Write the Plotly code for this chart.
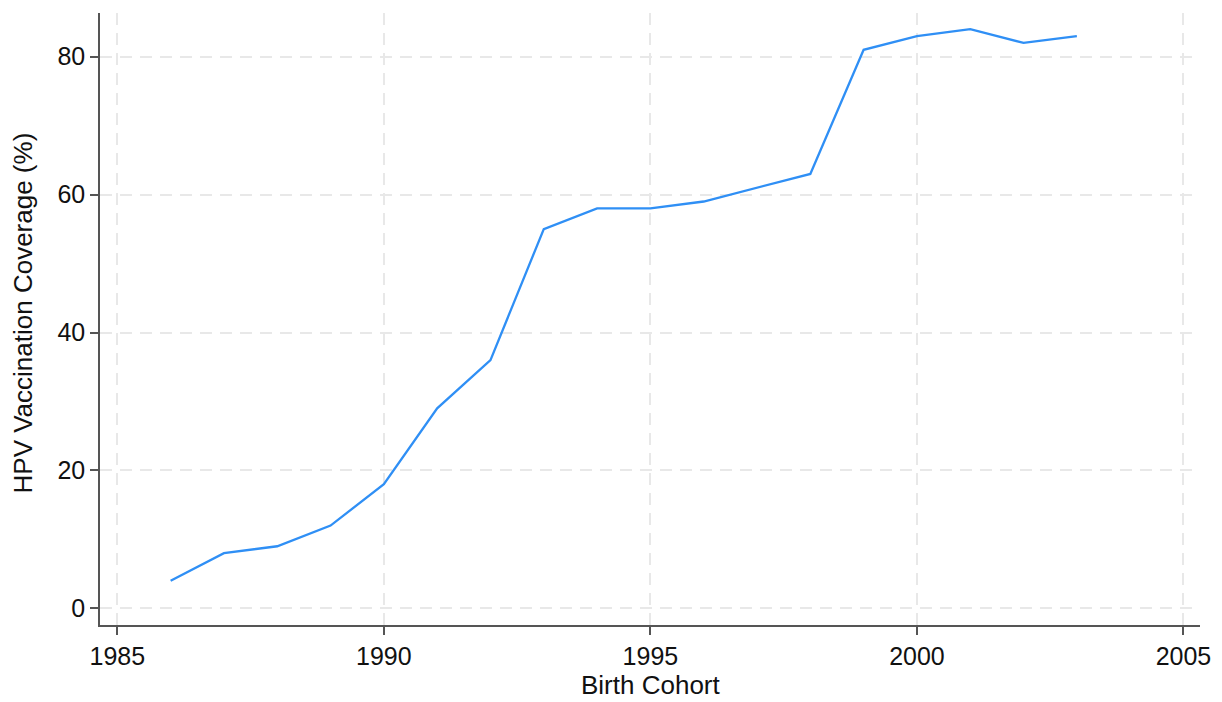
import plotly.graph_objects as go

years = [1986, 1987, 1988, 1989, 1990, 1991, 1992, 1993, 1994, 1995,
         1996, 1997, 1998, 1999, 2000, 2001, 2002, 2003]
coverage = [4, 8, 9, 12, 18, 29, 36, 55, 58, 58,
            59, 61, 63, 81, 83, 84, 82, 83]
x_ticks = [1985, 1990, 1995, 2000, 2005]
y_ticks = [0, 20, 40, 60, 80]

fig = go.Figure()
fig.add_trace(go.Scatter(x=years, y=coverage, mode="lines",
                         line=dict(color="#2f8ff5", width=2.3), showlegend=False))

font = "Arial, Liberation Sans, sans-serif"
grid = dict(showgrid=True, gridcolor="#e8e8e8", gridwidth=1.5, griddash="12px,8px")
axis = dict(showline=True, linecolor="#555555", linewidth=1.5,
            ticks="outside", ticklen=8, tickwidth=1.5, tickcolor="#555555",
            zeroline=False, tickfont=dict(size=25), automargin=False)
fig.update_layout(
    width=1222, height=702,
    margin=dict(l=100, r=22, t=13, b=77),
    plot_bgcolor="white", paper_bgcolor="white",
    font=dict(family=font, color="#111111"),
    annotations=[
        dict(text="Birth Cohort", xref="paper", yref="paper", x=0.5, y=-0.1250,
             xanchor="center", yanchor="bottom", showarrow=False,
             font=dict(size=26)),
        dict(text="HPV Vaccination Coverage (%)", xref="paper", yref="paper",
             x=-0.07, y=0.509, xanchor="center", yanchor="middle",
             textangle=-90, showarrow=False, font=dict(size=26)),
    ],
)
fig.update_xaxes(range=[1984.675, 2005.31], tickvals=x_ticks, **axis, **grid)
fig.update_yaxes(range=[-2.42, 86.34], tickvals=y_ticks, **axis, **grid)
fig.write_html("out.html", config={"displayModeBar": False},
               post_script="document.body.style.margin='0';")
